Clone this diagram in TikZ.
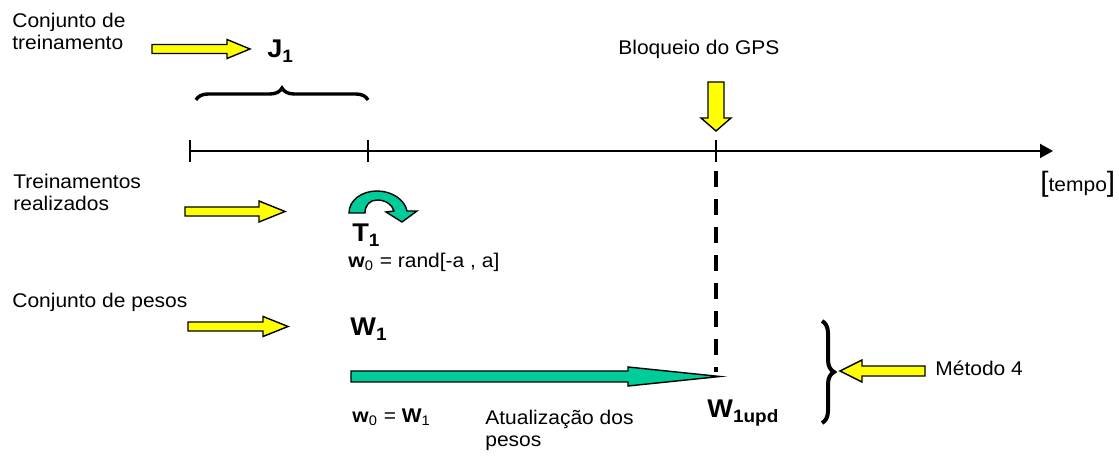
\documentclass[tikz,border=0pt]{standalone}
\usepackage{fontspec}
\setmainfont{Liberation Sans}[FakeStretch=1.06]
\usetikzlibrary{arrows.meta,decorations.pathreplacing}
\definecolor{ayellow}{RGB}{255,255,0}
\definecolor{agreen}{RGB}{0,204,153}
\tikzset{
  txt/.style={inner sep=0pt, anchor=base west, font=\fontsize{9.9}{11}\selectfont},
  big/.style={inner sep=0pt, anchor=base west, font=\fontsize{12.8}{14}\selectfont\bfseries},
  yarrow/.style={fill=ayellow, draw=black, line width=0.7pt, line join=miter},
  garrow/.style={fill=agreen, draw=black, line width=0.7pt, line join=miter},
  axisline/.style={line width=1pt},
  ticklbl/.style={line width=1pt},
  bracestyle/.style={line width=1.7pt, decorate, decoration={brace, amplitude=6pt}},
}
\begin{document}
\begin{tikzpicture}[x=0.5pt, y=-0.5pt]
\useasboundingbox (0,0) rectangle (1119,458);

% ---- labels on the left
\node[txt] (ct1) at (12,28) {Conjunto de};
\node[txt] (ct2) at (12,50) {treinamento};
\node[txt] (tr1) at (13,189) {Treinamentos};
\node[txt] (tr2) at (13,211) {realizados};
\node[txt] (cp1) at (12,308) {Conjunto de pesos};

% ---- yellow block arrows
\path[yarrow] (152,44.5) -- (227,44.5) -- (227,39.5) -- (250,49) -- (227,58.5) -- (227,53.5) -- (152,53.5) -- cycle;
\path[yarrow] (185,207) -- (259,207) -- (259,201) -- (285,211.5) -- (259,222) -- (259,216) -- (185,216) -- cycle;
\path[yarrow] (188,322) -- (263,322) -- (263,316.5) -- (288,326.5) -- (263,336.5) -- (263,331) -- (188,331) -- cycle;
\path[yarrow] (708,82) -- (724,82) -- (724,118) -- (731,118) -- (716,131) -- (701,118) -- (708,118) -- cycle;
\path[yarrow] (925,366) -- (862,366) -- (862,360) -- (840,371) -- (862,382) -- (862,376) -- (925,376) -- cycle;

% ---- bold labels
\node[big] (J1) at (267,58) {J\textsubscript{1}};
\node[big] (T1) at (352,242) {T\textsubscript{1}};
\node[big] (W1) at (350,336) {W\textsubscript{1}};
\node[big] (W1upd) at (707,418) {W\textsubscript{1upd}};

% ---- other texts
\node[txt] (gps) at (618,55) {Bloqueio do GPS};
\node[txt] (tempo) at (1040,192) {{\fontsize{14}{14}\selectfont[}tempo{\fontsize{14}{14}\selectfont]}};
\node[txt] (rand) at (348,268) {\textbf{w}\textsubscript{0} = rand[-a , a]};
\node[txt] (w0W1) at (352,423) {\textbf{w}\textsubscript{0} = \textbf{W}\textsubscript{1}};
\node[txt] (at1) at (485,425) {Atualização dos};
\node[txt] (at2) at (485,447) {pesos};
\node[txt] (met) at (935,376) {Método 4};

% ---- time axis
\coordinate (t0) at (190,151);
\coordinate (t1) at (368,151);
\coordinate (tg) at (716,151);
\coordinate (tend) at (1053,151);
\draw[axisline, -{Triangle[length=6.5pt,width=7pt]}] (t0) -- (tend);
\draw[ticklbl] ([yshift=5.5pt]t0) -- ([yshift=-5.5pt]t0);
\draw[ticklbl] ([yshift=5.5pt]t1) -- ([yshift=-5.5pt]t1);
\draw[ticklbl] ([yshift=5.5pt]tg) -- ([yshift=-5.5pt]tg);

% ---- braces
\coordinate (b1a) at (196,100);
\coordinate (b1b) at (368,100);
\draw[bracestyle] (b1a) -- (b1b);
\coordinate (b2a) at (822,321);
\coordinate (b2b) at (822,423);
\draw[bracestyle, line width=2pt] (b2a) -- (b2b);

% ---- curved green arrow
\path[garrow] (349,213) .. controls (349,200) and (362,191) .. (377,191)
  .. controls (392,191) and (405,200) .. (407,211) -- (417,211) -- (402,222) -- (386,212)
  -- (394,211) .. controls (392,204) and (385,200) .. (377,200)
  .. controls (370,200) and (365,205) .. (365,213) -- cycle;

% ---- long green arrow
\coordinate (gtip) at (720,376.5);
\path[garrow] (351,371) -- (628,371) -- (628,367) -- (gtip) -- (628,386) -- (628,382) -- (351,382) -- cycle;

% ---- dashed line
\coordinate (dtop) at (716,171);
\coordinate (dbot) at (716,372);
\draw[line width=2.3pt, dash pattern=on 8pt off 6pt] (dtop) -- (dbot);
\end{tikzpicture}
\end{document}
